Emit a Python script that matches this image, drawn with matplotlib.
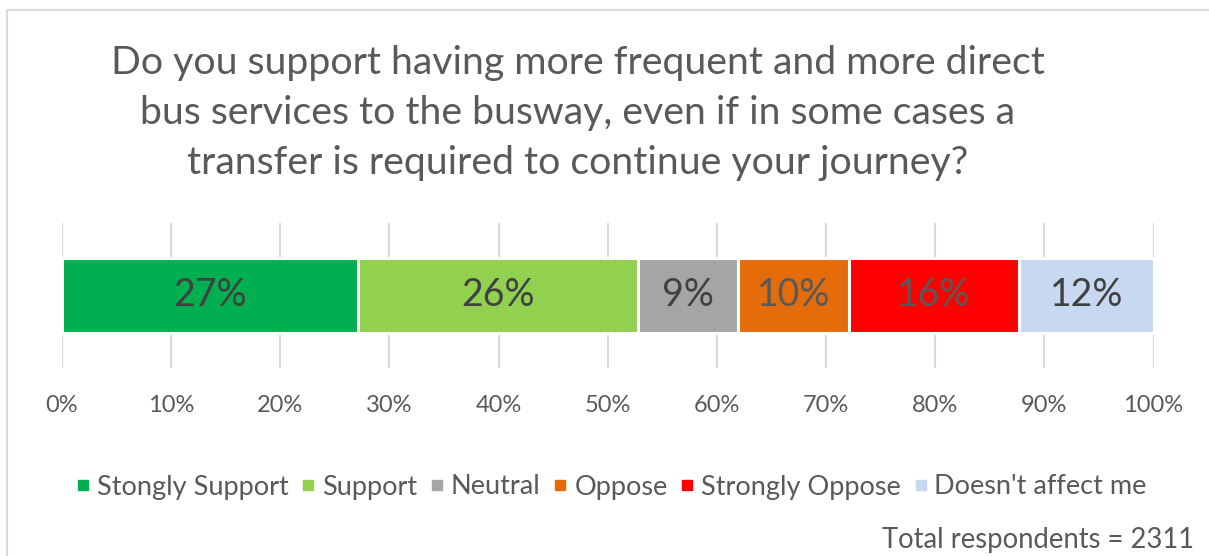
import matplotlib
matplotlib.use("Agg")
import matplotlib.pyplot as plt
from matplotlib.lines import Line2D
from matplotlib.patches import Rectangle

plt.rcParams['font.family'] = ['Lato', 'DejaVu Sans']

categories = ["Stongly Support", "Support", "Neutral", "Oppose", "Strongly Oppose", "Doesn't affect me"]
values = [27.1, 25.7, 9.1, 10.2, 15.6, 12.3]
labels = ["27%", "26%", "9%", "10%", "16%", "12%"]
colors = ["#00B050", "#92D050", "#A5A5A5", "#E46C0A", "#FF0000", "#C6D9F0"]
label_colors = ["#404040", "#404040", "#404040", "#595959", "#595959", "#404040"]
xticks = [0, 10, 20, 30, 40, 50, 60, 70, 80, 90, 100]
xtick_labels = ["0%", "10%", "20%", "30%", "40%", "50%", "60%", "70%", "80%", "90%", "100%"]
title_lines = ["Do you support having more frequent and more direct",
               "bus services to the busway, even if in some cases a",
               "transfer is required to continue your journey?"]
footnote = "Total respondents = 2311"

W, H = 1209, 556
fig = plt.figure(figsize=(W / 100, H / 100), dpi=100)
fig.patch.set_facecolor("white")

# chart border (left and top visible)
fig.patches.append(Rectangle((7 / W, -0.1), 1.2, (H - 10) / H + 0.1, transform=fig.transFigure,
                             fill=False, edgecolor="#D9D9D9", linewidth=1.5))

ax = fig.add_axes([62 / W, 1 - 368.3 / H, (1153.5 - 62) / W, (368.3 - 222.7) / H])
ax.set_xlim(0, 100)
ax.set_ylim(-0.5, 0.5)
for s in ax.spines.values():
    s.set_visible(False)
ax.set_yticks([])
ax.set_xticks(xticks)
ax.set_xticklabels(xtick_labels, fontsize=17, color="#595959")
ax.tick_params(axis="x", length=0, pad=19)
for t in xticks:
    ax.axvline(t, color="#D9D9D9", linewidth=1.5, zorder=0)

left = 0
for v, lab, c, lc in zip(values, labels, colors, label_colors):
    cont = ax.barh([0], [v], left=left, height=0.52, color=c, edgecolor="white", linewidth=2.2, zorder=2)
    ax.bar_label(cont, labels=[lab], label_type="center", color=lc, fontsize=27)
    left += v

tc = "#595959"
for i, line in enumerate(title_lines):
    fig.text(578 / W, 1 - (74 + 50 * i) / H, line, ha="center", va="baseline", fontsize=28.3, color=tc)

handles = [Line2D([], [], marker="s", linestyle="none", markersize=6.8, color=c) for c in colors]
fig.legend(handles, categories, loc="center", bbox_to_anchor=(612.5 / W, 1 - 487 / H), ncol=6,
           frameon=False, fontsize=19.5, labelcolor=tc, handlelength=0.36, handletextpad=0.33,
           columnspacing=0.55, borderpad=0, borderaxespad=0)

fig.text(1194 / W, 1 - 540 / H, footnote, ha="right", va="center", fontsize=19.8, color=tc)

fig.savefig("out.png", dpi=100)
